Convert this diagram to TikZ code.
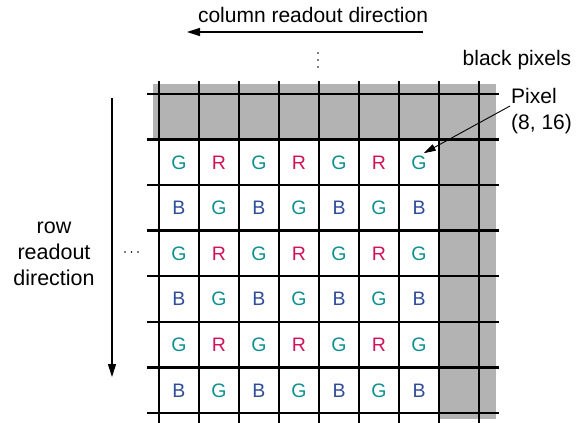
\documentclass[tikz,border=0pt]{standalone}
\usepackage{fontspec}
\setmainfont{Liberation Sans}
\usetikzlibrary{arrows.meta}
\definecolor{gcol}{HTML}{0E8F8F}
\definecolor{rcol}{HTML}{D1145A}
\definecolor{bcol}{HTML}{2E4C99}
\definecolor{graycol}{HTML}{B3B3B3}
\begin{document}
\begin{tikzpicture}[x=1pt,y=-1pt,
  gridline/.style={line width=2.4pt,black},
  lbl/.style={font=\fontsize{21}{24}\selectfont,inner sep=0pt},
  cell/.style={font=\fontsize{19.5}{22}\selectfont,inner sep=0pt},
  arr/.style={line width=1.1pt,-{Triangle[length=13pt,width=8pt]}},
  dotc/.style={fill=black,circle,inner sep=0pt,minimum size=1.6pt}]
\useasboundingbox (0,0) rectangle (584,423);
% gray black pixel regions
\fill[graycol] (153,84) rectangle (496,139.5);
\fill[graycol] (439,84) rectangle (496,419);
% grid
\foreach \x in {159,199,239,279,319,359,399,439,479}
  \draw[gridline] (\x,81) -- (\x,423);
\foreach \y in {94,139.5,185,230.5,276,322,367.5,413}
  \draw[gridline] (147,\y) -- (499,\y);
% cells
\foreach \r in {1,2,3,4,5,6}{
  \foreach \c in {1,...,7}{
    \pgfmathsetmacro{\cx}{139+40*\c}
    \pgfmathsetmacro{\cy}{139.5+45.6*(\r-0.5)}
    \pgfmathtruncatemacro{\rodd}{mod(\r,2)}
    \pgfmathtruncatemacro{\codd}{mod(\c,2)}
    \ifnum\rodd=1
      \ifnum\codd=1
        \node[cell,text=gcol] (c-\r-\c) at (\cx,\cy) {G};
      \else
        \node[cell,text=rcol] (c-\r-\c) at (\cx,\cy) {R};
      \fi
    \else
      \ifnum\codd=1
        \node[cell,text=bcol] (c-\r-\c) at (\cx,\cy) {B};
      \else
        \node[cell,text=gcol] (c-\r-\c) at (\cx,\cy) {G};
      \fi
    \fi
  }
}
% column readout direction
\node[lbl] (coltxt) at (313,15) {column readout direction};
\coordinate (colstart) at (423,32);
\coordinate (colend) at (187,32);
\draw[arr] (colstart) -- (colend);
% row readout direction
\node[lbl,align=center,font=\fontsize{21.5}{24}\selectfont] (rowtxt) at (54,254) {row\\[2pt]readout\\[2pt]direction};
\coordinate (rowstart) at (112,98);
\coordinate (rowend) at (112,377);
\draw[arr] (rowstart) -- (rowend);
% dots
\node[dotc] (vd1) at (318,53) {};
\node[dotc] (vd2) at (318,60) {};
\node[dotc] (vd3) at (318,67) {};
\node[dotc] (hd1) at (125,252) {};
\node[dotc] (hd2) at (131.5,252) {};
\node[dotc] (hd3) at (138,252) {};
% labels right
\node[lbl] (black) at (517,60) {black pixels};
\node[lbl,anchor=west,align=left] (pix) at (511,111) {Pixel\\[2pt](8, 16)};
\coordinate (pixstart) at (510,106);
\coordinate (pixend) at ([xshift=-3pt,yshift=2pt]c-1-7.north east);
\draw[arr,line width=0.9pt,-{Triangle[length=12pt,width=7pt]}] (pixstart) -- (pixend);
\end{tikzpicture}
\end{document}
